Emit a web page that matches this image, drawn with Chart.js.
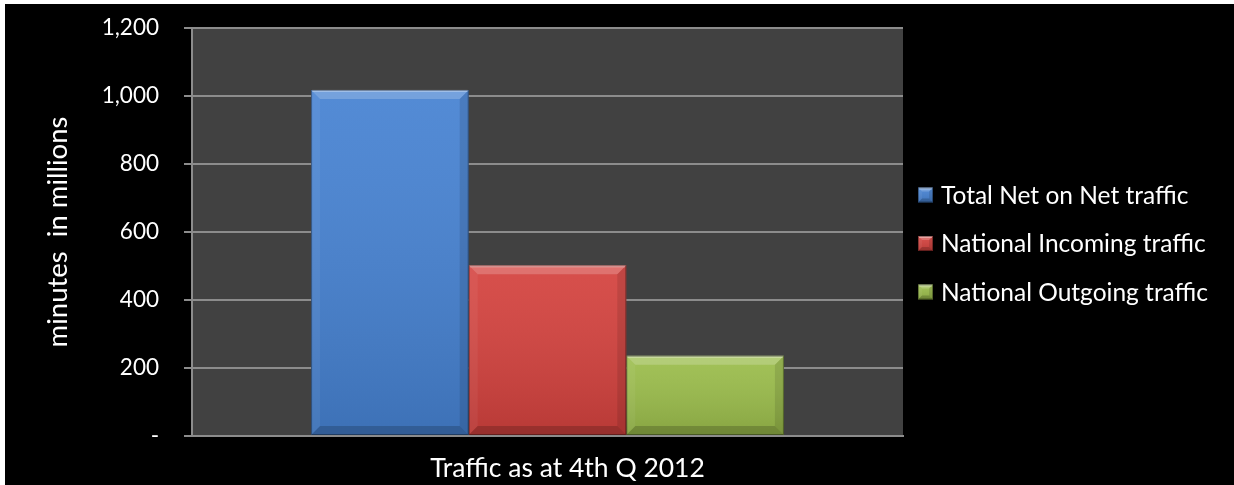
<!DOCTYPE html>
<html>
<head>
<meta charset="utf-8">
<script src="https://cdn.jsdelivr.net/npm/chart.js@4.4.1/dist/chart.umd.min.js"></script>
<style>
  html, body { margin: 0; padding: 0; background: #ffffff; }
  #wrap { position: absolute; left: 5px; top: 4px; width: 1229px; height: 481px; background: #000000; }
  canvas { display: block; }
</style>
</head>
<body>
<div id="wrap"><canvas id="chart" width="1229" height="481"></canvas></div>
<script>
// Quarterly traffic volumes, minutes in millions
const categories = ['Traffic as at 4th Q 2012'];
const seriesNames = ['Total Net on Net traffic', 'National Incoming traffic', 'National Outgoing traffic'];
const netOnNetTraffic = [1018];
const nationalIncomingTraffic = [502];
const nationalOutgoingTraffic = [236];
const yTickLabels = ['-', '200', '400', '600', '800', '1,000', '1,200'];

const seriesFill = ['#4682d2', '#d4423e', '#9bbd4b'];
const FONT = 'Lato, "Open Sans", "DejaVu Sans", sans-serif';

function poly(ctx, pts, fill) {
  ctx.beginPath();
  ctx.moveTo(pts[0][0], pts[0][1]);
  for (let k = 1; k < pts.length; k++) ctx.lineTo(pts[k][0], pts[k][1]);
  ctx.closePath();
  ctx.fillStyle = fill;
  ctx.fill();
}

// Soft bevel shading laid over a filled rectangle
function shadeBox(ctx, l, t, r, b, d) {
  ctx.save();
  const g = ctx.createLinearGradient(0, t, 0, b);
  g.addColorStop(0, 'rgba(255,255,255,0.07)');
  g.addColorStop(1, 'rgba(0,0,0,0.13)');
  ctx.fillStyle = g;
  ctx.fillRect(l, t, r - l, b - t);
  poly(ctx, [[l, t], [r, t], [r - d, t + d], [l + d, t + d]], 'rgba(255,255,255,0.20)');
  poly(ctx, [[l, t], [l + d, t + d], [l + d, b - d], [l, b]], 'rgba(255,255,255,0.05)');
  poly(ctx, [[r, t], [r, b], [r - d, b - d], [r - d, t + d]], 'rgba(0,0,0,0.10)');
  poly(ctx, [[l, b], [l + d, b - d], [r - d, b - d], [r, b]], 'rgba(0,0,0,0.18)');
  ctx.fillStyle = 'rgba(255,255,255,0.35)';
  ctx.fillRect(l + 1, t, r - l - 2, 2);
  ctx.strokeStyle = 'rgba(0,0,0,0.35)';
  ctx.lineWidth = 1;
  ctx.strokeRect(l + 0.5, t + 0.5, r - l - 1, b - t - 1);
  ctx.restore();
}

const plotBackground = {
  id: 'plotBackground',
  beforeDraw(chart, args, opts) {
    const { ctx, chartArea: a } = chart;
    ctx.save();
    ctx.fillStyle = opts.color;
    ctx.fillRect(a.left, a.top, a.right - a.left, a.bottom - a.top);
    ctx.restore();
  }
};

const barBevel = {
  id: 'barBevel',
  afterDatasetsDraw(chart) {
    const ctx = chart.ctx;
    chart.data.datasets.forEach((ds, i) => {
      const meta = chart.getDatasetMeta(i);
      if (meta.hidden) return;
      meta.data.forEach(bar => {
        const p = bar.getProps(['x', 'y', 'base', 'width'], true);
        const l = p.x - p.width / 2, r = p.x + p.width / 2;
        const t = Math.min(p.y, p.base), b = Math.max(p.y, p.base);
        shadeBox(ctx, l, t, r, b, 9);
      });
    });
  }
};

const sideLegend = {
  id: 'sideLegend',
  afterDraw(chart, args, opts) {
    const ctx = chart.ctx;
    ctx.save();
    ctx.font = opts.font;
    ctx.textBaseline = 'middle';
    chart.data.datasets.forEach((ds, i) => {
      const cy = opts.top + i * opts.spacing;
      const s = opts.box;
      ctx.fillStyle = ds.backgroundColor;
      ctx.fillRect(opts.x, cy - s / 2, s, s);
      shadeBox(ctx, opts.x, cy - s / 2, opts.x + s, cy + s / 2, 4);
      ctx.fillStyle = opts.color;
      ctx.fillText(ds.label, opts.x + s + 8, cy + 1);
    });
    ctx.restore();
  }
};

const seriesValues = [netOnNetTraffic, nationalIncomingTraffic, nationalOutgoingTraffic];

new Chart(document.getElementById('chart'), {
  type: 'bar',
  data: {
    labels: categories,
    datasets: seriesNames.map((name, i) => ({
      label: name,
      data: seriesValues[i],
      backgroundColor: seriesFill[i],
      borderWidth: 0,
      barPercentage: 1.0,
      categoryPercentage: 0.665
    }))
  },
  options: {
    responsive: false,
    animation: false,
    devicePixelRatio: 1,
    layout: { padding: { top: 24, right: 331, bottom: 0, left: 0 } },
    plugins: {
      legend: { display: false },
      tooltip: { enabled: false },
      plotBackground: { color: '#414141' },
      sideLegend: { x: 913, top: 191, spacing: 48.5, box: 15, font: '24.5px ' + FONT, color: '#ffffff' }
    },
    scales: {
      x: {
        grid: { display: false, drawTicks: false, tickLength: 0 },
        border: { display: true, color: '#8c8c8c', width: 2 },
        ticks: { color: '#ffffff', font: { family: FONT, size: 26.5 }, padding: 17, labelOffset: 20 },
        afterFit(scale) { scale.height = 49; }
      },
      y: {
        min: 0,
        max: 1200,
        ticks: {
          stepSize: 200,
          color: '#ffffff',
          font: { family: FONT, size: 22.5 },
          padding: 25,
          callback: (value, index) => yTickLabels[index]
        },
        grid: { color: '#8c8c8c', lineWidth: 2, tickLength: 8, drawTicks: true },
        border: { display: true, color: '#8c8c8c', width: 2 },
        title: {
          display: true,
          text: 'minutes  in millions',
          color: '#ffffff',
          font: { family: FONT, size: 27.5 },
          padding: { top: 37, bottom: 0 }
        },
        afterFit(scale) {
          scale.width = 187;
          // only the half-height of the end labels needs room above/below the axis
          scale.paddingTop = 14;
          scale.paddingBottom = 14;
        }
      }
    }
  },
  plugins: [plotBackground, barBevel, sideLegend]
});
</script>
</body>
</html>
